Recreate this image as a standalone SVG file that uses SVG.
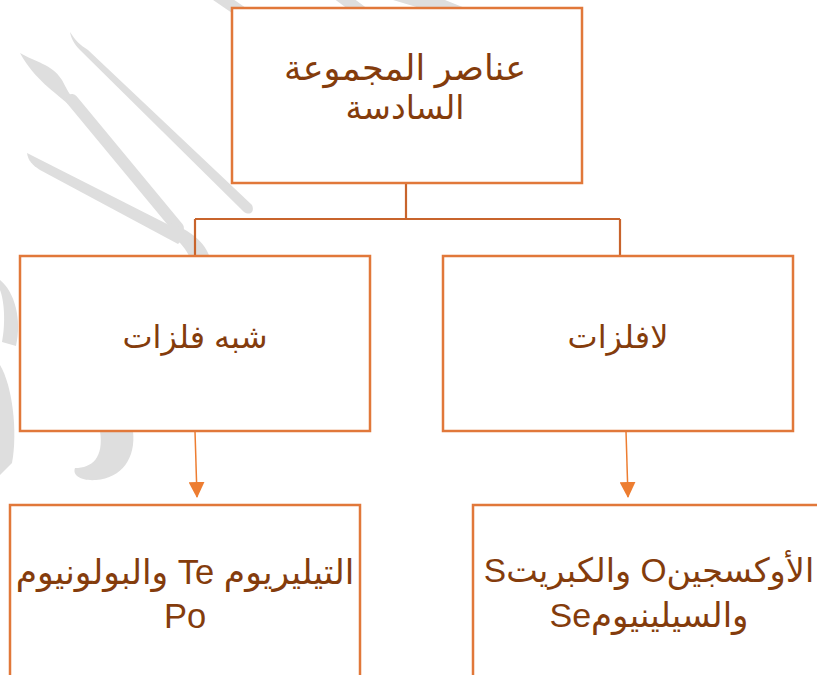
<svg xmlns="http://www.w3.org/2000/svg" width="817" height="675" viewBox="0 0 817 675">
<defs>
<style>
.box{fill:#fff;stroke:#E1783A;stroke-width:2.5}
.wm{fill:#DEDEDE;stroke:none}
.wms{fill:none;stroke:#DEDEDE;stroke-linecap:round}
.tree{fill:none;stroke:#C8642C;stroke-width:2.2}
.arr{fill:none;stroke:#ED7D31;stroke-width:1.5}
.t{font-family:"Liberation Sans","DejaVu Sans",sans-serif;fill:#843C0C;text-anchor:middle;direction:rtl}
</style>
<marker id="ah" markerWidth="16" markerHeight="16" refX="15" refY="8" orient="auto" markerUnits="userSpaceOnUse">
<path d="M0,0 L16,8 L0,16 Z" fill="#ED7D31"/>
</marker>
</defs>
<rect width="817" height="675" fill="#fff"/>
<g id="watermark">
<path class="wm" d="M20,53 C35,62 52,64 62,80 C66,88 70,95 74,100 L68,104 C55,92 35,80 20,53 Z"/>
<line class="wms" x1="72" y1="100" x2="178" y2="228" stroke-width="12"/>
<path class="wm" d="M168,222 C185,228 205,240 210,258 L190,258 C186,248 176,238 168,232 Z"/>
<path class="wm" d="M70,32 C75,40 80,45 88,50 L252,205 C255,212 250,216 244,212 L80,50 C74,44 71,38 70,32 Z"/>
<path class="wm" d="M27,153 L173,227 C180,232 184,240 178,244 L40,170 C32,165 28,160 27,153 Z"/>
<line class="wms" x1="212" y1="-8" x2="250" y2="18" stroke-width="12"/>
<line class="wms" x1="335" y1="-8" x2="370" y2="18" stroke-width="12"/>
<path class="wm" d="M393,0 L445,0 L470,10 L460,20 Z"/>
<path class="wm" d="M0,280 C15,292 22,320 16,346 L2,342 C6,322 4,300 0,290 Z"/>
<path class="wm" d="M0,365 C12,385 18,430 12,463 L0,475 Z"/>
<path class="wm" d="M100,431 L133,431 C136,458 122,478 96,480 C82,481 72,476 75,468 C92,468 104,458 100,431 Z"/>
</g>
<g id="connectors">
<path class="tree" d="M406,183 V219 M195,219 H620 M195,219 V256 M620,219 V256"/>
<line class="arr" x1="195" y1="431" x2="197" y2="497" marker-end="url(#ah)"/>
<line class="arr" x1="626" y1="431" x2="628" y2="497" marker-end="url(#ah)"/>
</g>
<g id="node-top">
<rect class="box" x="232" y="8" width="350" height="175"/>
<text class="t" x="405" y="80" font-size="35">عناصر المجموعة</text>
<text class="t" x="405" y="119" font-size="33">السادسة</text>
</g>
<g id="node-metalloids">
<rect class="box" x="20" y="256" width="350" height="175"/>
<text class="t" x="195" y="348" font-size="32">شبه فلزات</text>
</g>
<g id="node-nonmetals">
<rect class="box" x="443" y="256" width="350" height="175"/>
<text class="t" x="618" y="348" font-size="32">لافلزات</text>
</g>
<g id="node-te-po">
<rect class="box" x="10" y="505" width="350" height="180"/>
<text class="t" x="185" y="584" font-size="34.5">التيليريوم  Te والبولونيوم</text>
<text class="t" x="185" y="628" font-size="34.5">Po</text>
</g>
<g id="node-o-s-se">
<rect class="box" x="473" y="505" width="360" height="180"/>
<text class="t" x="649" y="582" font-size="33.5">الأوكسجينO والكبريتS</text>
<text class="t" x="649" y="627" font-size="34">والسيلينيومSe</text>
</g>
</svg>
